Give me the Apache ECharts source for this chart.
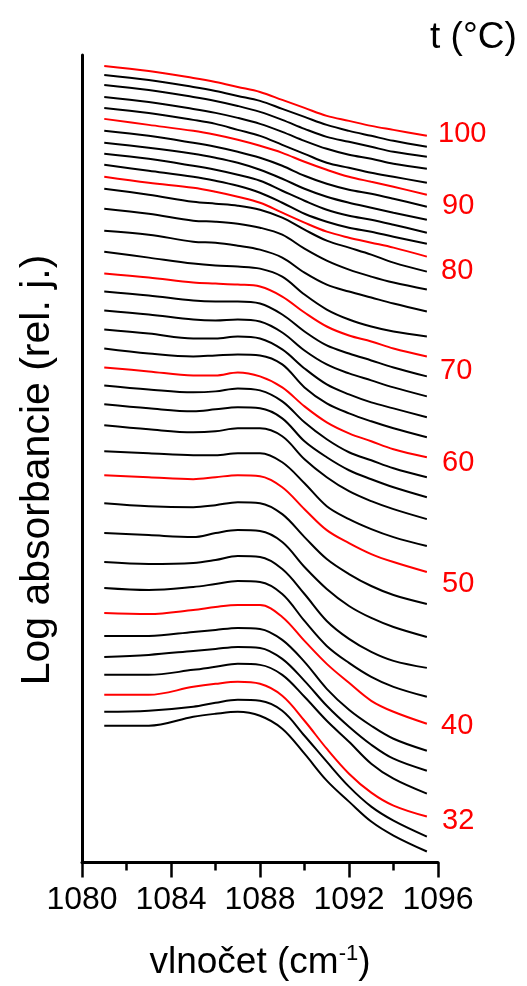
<!DOCTYPE html>
<html>
<head>
<meta charset="utf-8">
<script src="https://cdn.jsdelivr.net/npm/echarts@6/dist/echarts.min.js"></script>
<style>
html,body{margin:0;padding:0;background:#fff;}
#chart{width:527px;height:986px;}
</style>
</head>
<body>
<div id="chart"></div>
<script>
// wavenumber sample points (cm-1)
const wavenumbers = [1081, 1083, 1085, 1086, 1087, 1088, 1089, 1090, 1091, 1092, 1093, 1094, 1095.5];
// temperatures of the stacked spectra (°C), top to bottom
const temperatures = [100, 98, 96, 94, 92, 90, 88, 86, 84, 82, 80, 78, 76, 74, 72, 70, 68, 66, 64, 62, 60, 58, 56, 54, 52, 50, 48, 46, 44, 42, 40, 38, 36, 34, 32, 30, 28];
// temperatures drawn in red and labelled
const labelledTemps = [100, 90, 80, 70, 60, 50, 40, 32];
const xTicks = [1080, 1084, 1088, 1092, 1096];

// log absorbance (rel. units, offset stacked) for each temperature
const t100 = [7.98, 7.93, 7.86, 7.82, 7.77, 7.72, 7.64, 7.56, 7.48, 7.43, 7.38, 7.34, 7.28];
const t98  = [7.89, 7.84, 7.77, 7.73, 7.68, 7.63, 7.55, 7.47, 7.39, 7.33, 7.28, 7.23, 7.17];
const t96  = [7.79, 7.74, 7.67, 7.63, 7.58, 7.52, 7.44, 7.35, 7.27, 7.22, 7.17, 7.12, 7.07];
const t94  = [7.67, 7.62, 7.55, 7.51, 7.46, 7.40, 7.32, 7.23, 7.15, 7.09, 7.05, 7.00, 6.95];
const t92  = [7.56, 7.51, 7.44, 7.40, 7.34, 7.28, 7.19, 7.10, 7.01, 6.96, 6.91, 6.87, 6.81];
const t90  = [7.45, 7.39, 7.33, 7.29, 7.24, 7.18, 7.11, 7.02, 6.94, 6.87, 6.82, 6.77, 6.69];
const t88  = [7.33, 7.28, 7.21, 7.17, 7.12, 7.06, 6.98, 6.88, 6.80, 6.74, 6.70, 6.65, 6.57];
const t86  = [7.21, 7.16, 7.10, 7.06, 7.01, 6.94, 6.85, 6.75, 6.67, 6.61, 6.56, 6.51, 6.44];
const t84  = [7.10, 7.05, 6.98, 6.94, 6.89, 6.83, 6.73, 6.63, 6.54, 6.48, 6.44, 6.39, 6.31];
const t82  = [6.99, 6.93, 6.87, 6.83, 6.78, 6.71, 6.61, 6.50, 6.42, 6.36, 6.32, 6.27, 6.20];
const t80  = [6.87, 6.81, 6.76, 6.72, 6.67, 6.61, 6.51, 6.41, 6.32, 6.26, 6.21, 6.16, 6.07];
const t78  = [6.75, 6.69, 6.62, 6.60, 6.58, 6.54, 6.46, 6.34, 6.23, 6.16, 6.09, 6.01, 5.92];
const t76  = [6.55, 6.50, 6.43, 6.42, 6.40, 6.36, 6.29, 6.15, 6.03, 5.94, 5.87, 5.81, 5.74];
const t74  = [6.33, 6.29, 6.22, 6.21, 6.18, 6.14, 6.06, 5.91, 5.79, 5.72, 5.66, 5.60, 5.52];
const t72  = [6.12, 6.06, 6.00, 5.98, 5.97, 5.95, 5.87, 5.69, 5.54, 5.44, 5.37, 5.32, 5.27];
const t70  = [5.90, 5.86, 5.81, 5.80, 5.79, 5.77, 5.67, 5.51, 5.37, 5.28, 5.22, 5.15, 5.07];
const t68  = [5.72, 5.68, 5.63, 5.62, 5.62, 5.60, 5.49, 5.32, 5.18, 5.10, 5.03, 4.96, 4.87];
const t66  = [5.53, 5.49, 5.44, 5.43, 5.44, 5.42, 5.31, 5.13, 4.99, 4.90, 4.83, 4.76, 4.67];
const t64  = [5.34, 5.30, 5.25, 5.25, 5.27, 5.25, 5.14, 4.95, 4.79, 4.69, 4.61, 4.55, 4.46];
const t62  = [5.15, 5.10, 5.07, 5.08, 5.09, 5.08, 4.99, 4.76, 4.60, 4.50, 4.42, 4.35, 4.26];
const t60  = [4.96, 4.92, 4.88, 4.88, 4.91, 4.87, 4.76, 4.57, 4.41, 4.30, 4.22, 4.14, 4.06];
const t58  = [4.78, 4.74, 4.71, 4.72, 4.75, 4.73, 4.62, 4.41, 4.24, 4.11, 4.03, 3.95, 3.86];
const t56  = [4.59, 4.55, 4.52, 4.54, 4.56, 4.55, 4.45, 4.22, 4.06, 3.93, 3.84, 3.76, 3.66];
const t54  = [4.38, 4.34, 4.31, 4.32, 4.35, 4.35, 4.27, 4.04, 3.86, 3.72, 3.62, 3.54, 3.44];
const t52  = [4.12, 4.10, 4.08, 4.08, 4.10, 4.10, 4.01, 3.80, 3.57, 3.44, 3.34, 3.26, 3.17];
const t50  = [3.88, 3.86, 3.84, 3.86, 3.88, 3.87, 3.76, 3.54, 3.33, 3.20, 3.09, 3.01, 2.91];
const t48  = [3.60, 3.57, 3.56, 3.58, 3.61, 3.60, 3.49, 3.26, 3.04, 2.89, 2.77, 2.68, 2.59];
const t46  = [3.30, 3.28, 3.26, 3.30, 3.33, 3.32, 3.21, 2.96, 2.74, 2.57, 2.45, 2.36, 2.26];
const t44  = [3.01, 2.99, 3.00, 3.03, 3.07, 3.06, 2.94, 2.69, 2.42, 2.24, 2.11, 2.02, 1.95];
const t42  = [2.75, 2.73, 2.76, 2.79, 2.82, 2.81, 2.69, 2.42, 2.17, 2.00, 1.86, 1.76, 1.66];
const t40  = [2.50, 2.49, 2.53, 2.56, 2.58, 2.58, 2.46, 2.22, 1.99, 1.80, 1.62, 1.51, 1.39];
const t38  = [2.27, 2.27, 2.31, 2.33, 2.35, 2.34, 2.23, 2.01, 1.74, 1.53, 1.37, 1.24, 1.12];
const t36  = [2.06, 2.08, 2.12, 2.14, 2.16, 2.15, 2.04, 1.82, 1.57, 1.36, 1.18, 1.04, 0.92];
const t34  = [1.88, 1.88, 1.93, 1.96, 1.99, 1.98, 1.88, 1.66, 1.42, 1.21, 0.99, 0.84, 0.69];
const t32  = [1.68, 1.68, 1.76, 1.79, 1.81, 1.79, 1.67, 1.42, 1.14, 0.89, 0.70, 0.57, 0.46];
const t30  = [1.51, 1.52, 1.56, 1.60, 1.63, 1.62, 1.52, 1.27, 1.01, 0.76, 0.56, 0.42, 0.26];
const t28  = [1.37, 1.37, 1.46, 1.49, 1.51, 1.47, 1.34, 1.09, 0.82, 0.61, 0.41, 0.27, 0.11];

const curves = [t100, t98, t96, t94, t92, t90, t88, t86, t84, t82, t80, t78, t76, t74, t72, t70, t68, t66, t64, t62, t60, t58, t56, t54, t52, t50, t48, t46, t44, t42, t40, t38, t36, t34, t32, t30, t28];

const FONT = "'Liberation Sans', Arial, sans-serif";

const series = temperatures.map(function (t, i) {
  const red = labelledTemps.indexOf(t) >= 0;
  return {
    name: String(t),
    type: 'line',
    data: wavenumbers.map(function (x, j) { return [x, curves[i][j]]; }),
    smooth: 0.35,
    showSymbol: false,
    symbol: 'none',
    lineStyle: { color: red ? '#ff0000' : '#000000', width: 2 },
    z: red ? 3 : 2,
    silent: true
  };
});

// label text anchor positions (pixels) for the red curves
const labelPos = { 100: [438, 134], 90: [442, 206], 80: [441, 271], 70: [440, 371], 60: [442, 463], 50: [442, 584], 40: [441, 726], 32: [442, 821] };
const graphics = labelledTemps.map(function (t) {
  return {
    type: 'text', x: labelPos[t][0], y: labelPos[t][1],
    style: { text: String(t), fill: '#ff0000', font: '29px ' + FONT, textAlign: 'left', textVerticalAlign: 'middle' }
  };
});
graphics.push({
  type: 'text', x: 430, y: 38,
  style: { text: 't (°C)', fill: '#000', font: '37px ' + FONT, textAlign: 'left', textVerticalAlign: 'middle' }
});
graphics.push({
  type: 'text', x: 38, y: 470, rotation: Math.PI / 2,
  style: { text: 'Log absorbancie (rel. j.)', fill: '#000', font: '41px ' + FONT, textAlign: 'center', textVerticalAlign: 'middle' }
});

const chart = echarts.init(document.getElementById('chart'), null, { renderer: 'canvas' });
chart.setOption({
  backgroundColor: '#ffffff',
  animation: false,
  grid: { left: 82, right: 89, top: 55, bottom: 122, containLabel: false },
  xAxis: {
    type: 'value', min: 1080, max: 1096, interval: 4,
    axisLine: { show: true, lineStyle: { color: '#000', width: 3 } },
    axisTick: { show: true, inside: false, length: 15, lineStyle: { color: '#000', width: 2.5 } },
    minorTick: { show: true, splitNumber: 2, length: 8, lineStyle: { color: '#000', width: 2.5 } },
    splitLine: { show: false },
    axisLabel: { color: '#000', fontSize: 32, fontFamily: FONT, margin: 22,
      formatter: function (v) { return xTicks.indexOf(v) >= 0 ? String(v) : ''; } },
    name: '{a|vlnočet (cm}{s|-1}{a|)}',
    nameLocation: 'middle', nameGap: 80,
    nameTextStyle: { rich: {
      a: { fontSize: 37, fontFamily: FONT, color: '#000' },
      s: { fontSize: 22, fontFamily: FONT, color: '#000', verticalAlign: 'top', padding: [0, 0, 18, 0] }
    } }
  },
  yAxis: {
    type: 'value', min: 0, max: 8.09,
    axisLine: { show: true, onZero: false, lineStyle: { color: '#000', width: 3 } },
    axisTick: { show: false }, axisLabel: { show: false }, splitLine: { show: false }
  },
  graphic: graphics,
  series: series
});
</script>
</body>
</html>
